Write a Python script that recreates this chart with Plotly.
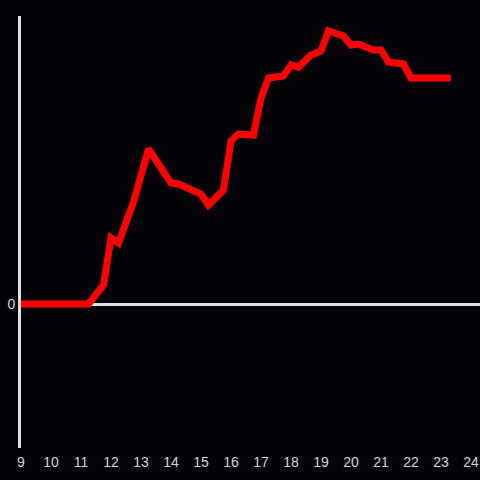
import plotly.graph_objects as go

hours = [9.0, 11.25, 11.75, 12.0, 12.25, 12.75, 13.25, 14.0, 14.25, 15.0, 15.25,
         15.75, 16.0, 16.25, 16.75, 17.0, 17.25, 17.75, 18.0, 18.25, 18.67, 19.0,
         19.25, 19.75, 20.0, 20.25, 20.75, 21.0, 21.25, 21.75, 22.0, 23.33]
values = [0, 0, 19, 66, 61, 102, 155, 121, 120, 110, 99,
          114, 163, 170, 169, 206, 226, 228, 239, 237, 249, 253,
          273, 268, 259, 260, 254, 254, 242, 240, 226, 226]
x_ticks = list(range(9, 25))

fig = go.Figure()
fig.add_trace(go.Scatter(x=hours, y=values, mode="lines",
                         line=dict(color="#ff0000", width=7), hoverinfo="skip"))

fig.update_layout(
    width=480, height=480,
    margin=dict(l=21, r=0, t=16, b=32),
    paper_bgcolor="#040206", plot_bgcolor="#040206",
    showlegend=False,
    font=dict(family="Liberation Sans, Arial, sans-serif", size=14, color="#d4d4d4"),
    xaxis=dict(range=[9, 24.3], tickvals=x_ticks, ticktext=[str(t) for t in x_ticks],
               showgrid=False, zeroline=False, showline=False, ticks="",
               ticklabelstandoff=4, fixedrange=True),
    yaxis=dict(range=[-144, 288], tickvals=[0], ticktext=["0"], showgrid=False,
               zeroline=True, zerolinecolor="#e0e0e0", zerolinewidth=3,
               showline=True, linecolor="#e0e0e0", linewidth=3, ticks="",
               ticklabelstandoff=0, fixedrange=True),
)

fig.write_html("out.html", config={"displayModeBar": False},
               post_script="document.body.style.margin='0';document.body.style.background='#040206';")
